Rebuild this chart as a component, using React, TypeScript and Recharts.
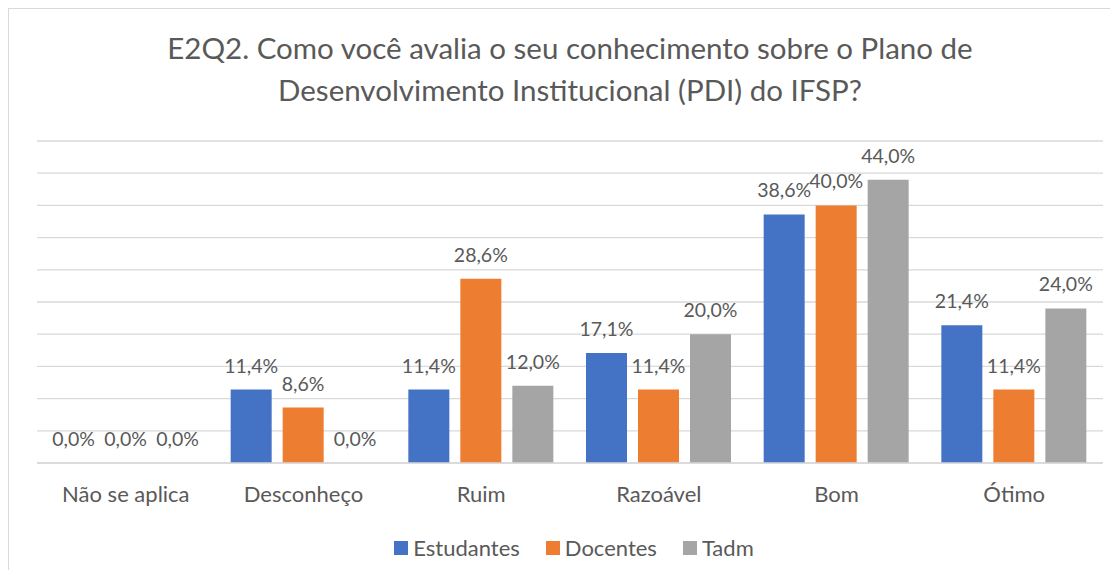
import { BarChart, Bar, XAxis, YAxis, CartesianGrid, LabelList, Legend } from "recharts";

const categories = ["Não se aplica", "Desconheço", "Ruim", "Razoável", "Bom", "Ótimo"];
const estudantes = [0, 11.4, 11.4, 17.1, 38.6, 21.4];
const docentes = [0, 8.6, 28.6, 11.4, 40.0, 11.4];
const tadm = [0, 0, 12.0, 20.0, 44.0, 24.0];
const yTicks = [0, 5, 10, 15, 20, 25, 30, 35, 40, 45, 50];

const series = [
  { key: "estudantes", name: "Estudantes", color: "#4472C4" },
  { key: "docentes", name: "Docentes", color: "#ED7D31" },
  { key: "tadm", name: "Tadm", color: "#A5A5A5" },
];

const data = categories.map((cat, i) => ({
  cat,
  estudantes: estudantes[i],
  docentes: docentes[i],
  tadm: tadm[i],
}));

const FONT = "Lato, 'Open Sans', sans-serif";
const TEXT = "#595959";

const fmt = (v: any) => `${Number(v).toFixed(1).replace(".", ",")}%`;

function LegendBox() {
  return (
    <div
      style={{
        display: "flex",
        justifyContent: "center",
        alignItems: "center",
        gap: 26,
        paddingLeft: 8,
        fontFamily: FONT,
        fontSize: 22,
        color: TEXT,
      }}
    >
      {series.map((s) => (
        <div key={s.key} style={{ display: "flex", alignItems: "center" }}>
          <span style={{ width: 14, height: 14, background: s.color, display: "inline-block", marginRight: 5 }} />
          <span>{s.name}</span>
        </div>
      ))}
    </div>
  );
}

export default function App() {
  return (
    <div
      style={{
        position: "relative",
        width: 1109,
        height: 561,
        borderLeft: "1px solid #d9d9d9",
        borderTop: "1px solid #d9d9d9",
        background: "#fff",
        fontFamily: FONT,
      }}
    >
      <div
        style={{
          position: "absolute",
          left: 28,
          top: 18,
          width: 1066,
          textAlign: "center",
          fontSize: 29.5,
          lineHeight: "42px",
          color: TEXT,
        }}
      >
        E2Q2. Como você avalia o seu conhecimento sobre o Plano de
        <br />
        Desenvolvimento Institucional (PDI) do IFSP?
      </div>
      <BarChart
        width={1109}
        height={561}
        data={data}
        margin={{ top: 132, right: 15, bottom: 67, left: 28 }}
        barCategoryGap={16}
        barGap={11}
      >
        <CartesianGrid vertical={false} stroke="#D9D9D9" strokeWidth={1.3} />
        <YAxis hide domain={[0, 50]} ticks={yTicks} width={0} />
        <XAxis
          dataKey="cat"
          height={40}
          tickLine={false}
          axisLine={{ stroke: "#D9D9D9", strokeWidth: 1.3 }}
          tickMargin={17}
          tick={{ fill: TEXT, fontSize: 22, fontFamily: FONT }}
          interval={0}
        />
        <Legend
          verticalAlign="middle"
          wrapperStyle={{ top: 525, left: 28, width: 1066 }}
          content={() => <LegendBox />}
        />
        {series.map((s) => (
          <Bar
            key={s.key}
            dataKey={s.key}
            name={s.name}
            fill={s.color}
            minPointSize={0.1}
            isAnimationActive={false}
          >
            <LabelList
              dataKey={s.key}
              position="top"
              offset={17}
              formatter={fmt}
              style={{ fill: TEXT, fontSize: 19.5, fontFamily: FONT }}
            />
          </Bar>
        ))}
      </BarChart>
    </div>
  );
}
